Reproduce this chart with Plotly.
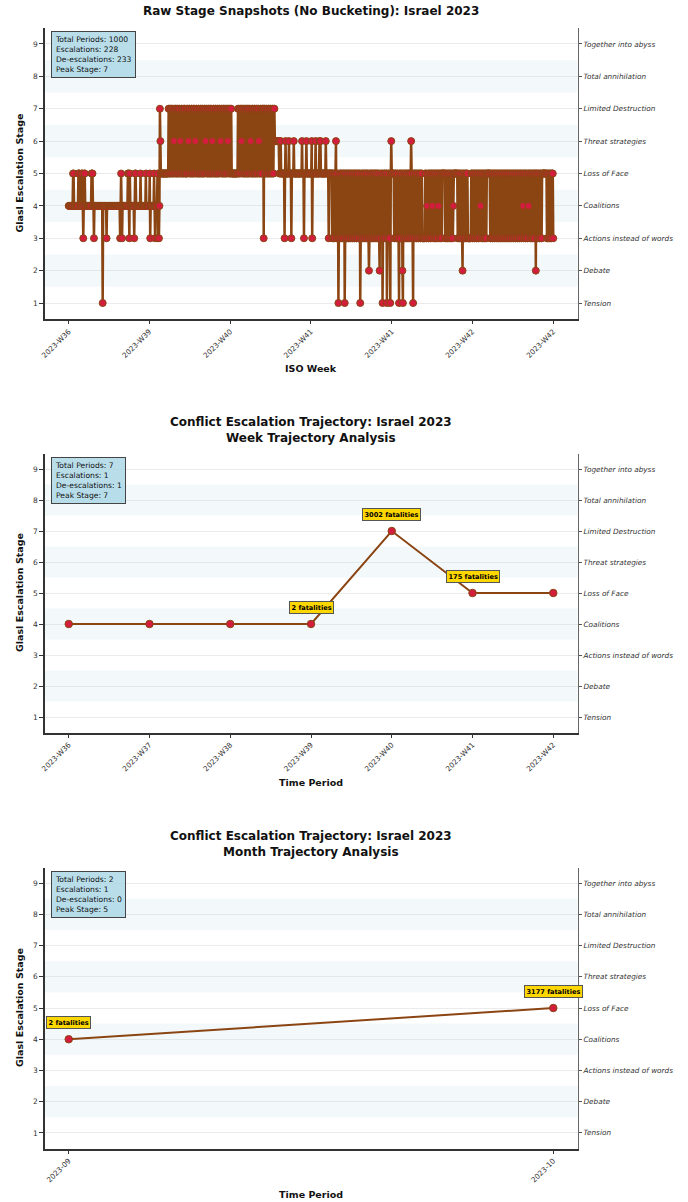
import plotly.graph_objects as go

# ---------------- data ----------------
STAGE_LEVELS = [1, 2, 3, 4, 5, 6, 7, 8, 9]
STAGE_NAMES = ["Tension", "Debate", "Actions instead of words", "Coalitions",
               "Loss of Face", "Threat strategies", "Limited Destruction",
               "Total annihilation", "Together into abyss"]

# raw snapshot stages (1000 periods), 50 per row
RAW_STAGE_ROWS = [
    "4444444445 5444444444 5554444554 3455444444 4444444555",
    "4434444444 4444444444 1444444434 4444444444 4444444444",
    "4444443454 3444444444 4455435444 4444434554 4444444454",
    "4444444445 4444444534 4444445434 4445343476 5555555555",
    "5555557755 7577557657 7557755775 6577557577 5575577657",
    "7557755775 7657755775 5775577557 7567755775 5775576577",
    "5577557755 7756775577 5577557765 7755775555 5555555557",
    "7557756775 5775577557 7557765577 5577557755 7765577557",
    "7737755775 5775577557 7557766666 6666565655 5555535655",
    "5555655553 5555655555 5555555555 5655535555 6555555555",
    "5635555556 5555555656 5555555555 6555553555 5553553535",
    "5635351335 5335533551 3553355335 5335533553 3553355335",
    "5133553355 3355335532 3553355335 5335533553 3253355133",
    "5533551335 5331565555 5335533553 3155335521 5335533553",
    "3553356533 1553355335 5335533553 3333355334 5335533553",
    "4553355335 5345533553 5555553355 3355335533 5534555555",
    "5533553355 3325533553 3553333333 5533553355 3355335534",
    "5533553355 3355555553 3553355335 5335533553 3553355335",
    "5335533553 3553355335 5335533553 3553355435 5335533545",
    "5335533553 3552553355 3355335555 5555553355 3355335553",
]
RAW_TICK_POSITIONS = [0, 166, 333, 499, 666, 832, 999]
RAW_TICK_LABELS = ["2023-W36", "2023-W39", "2023-W40", "2023-W41",
                   "2023-W41", "2023-W42", "2023-W42"]
RAW_STATS = ["Total Periods: 1000", "Escalations: 228",
             "De-escalations: 233", "Peak Stage: 7"]

WEEK_LABELS = ["2023-W36", "2023-W37", "2023-W38", "2023-W39",
               "2023-W40", "2023-W41", "2023-W42"]
WEEK_STAGES = [4, 4, 4, 4, 7, 5, 5]
WEEK_FATALITIES = [0, 0, 0, 2, 3002, 175, 0]
WEEK_STATS = ["Total Periods: 7", "Escalations: 1",
              "De-escalations: 1", "Peak Stage: 7"]

MONTH_LABELS = ["2023-09", "2023-10"]
MONTH_STAGES = [4, 5]
MONTH_FATALITIES = [2, 3177]
MONTH_STATS = ["Total Periods: 2", "Escalations: 1",
               "De-escalations: 0", "Peak Stage: 5"]

raw_stages = [int(c) for row in RAW_STAGE_ROWS for c in row.replace(" ", "")]
raw_index = list(range(len(raw_stages)))

# ---------------- style / layout ----------------
W, H = 688, 1202
FONT = "DejaVu Sans"
LINE_COLOR = "#8B4513"
MARKER_COLOR = "#D21E3C"
BAND_COLOR = "rgba(173,216,230,0.14)"
GRID_COLOR = "rgba(190,190,190,0.30)"

X_DOMAIN = [44.5 / W, 577.5 / W]


def py(px):
    return 1 - px / H


PANELS = [
    # (axis suffix, right-axis suffix, top px, bottom px)
    ("", "4", 27.8, 319.2),
    ("2", "5", 453.5, 732.5),
    ("3", "6", 867.5, 1148.5),
]

fig = go.Figure()

# panel 1 : raw snapshots
fig.add_trace(go.Scatter(
    x=raw_index, y=raw_stages, mode="lines+markers",
    line=dict(color=LINE_COLOR, width=2.5, simplify=False),
    marker=dict(color=MARKER_COLOR, size=7, line=dict(color=LINE_COLOR, width=1)),
    xaxis="x", yaxis="y", showlegend=False, hoverinfo="skip"))

# panel 2 : weekly
fig.add_trace(go.Scatter(
    x=WEEK_LABELS, y=WEEK_STAGES, mode="lines+markers",
    line=dict(color=LINE_COLOR, width=2),
    marker=dict(color=MARKER_COLOR, size=7.5, line=dict(color=LINE_COLOR, width=1)),
    xaxis="x2", yaxis="y2", showlegend=False, hoverinfo="skip"))

# panel 3 : monthly
fig.add_trace(go.Scatter(
    x=MONTH_LABELS, y=MONTH_STAGES, mode="lines+markers",
    line=dict(color=LINE_COLOR, width=2),
    marker=dict(color=MARKER_COLOR, size=7.5, line=dict(color=LINE_COLOR, width=1)),
    xaxis="x3", yaxis="y3", showlegend=False, hoverinfo="skip"))

# invisible anchors for the right-hand stage-name axes
for xs, ry, xv in [("x", "y4", raw_index[0]), ("x2", "y5", WEEK_LABELS[0]),
                   ("x3", "y6", MONTH_LABELS[0])]:
    fig.add_trace(go.Scatter(x=[xv], y=[STAGE_LEVELS[0]], mode="markers",
                             marker=dict(opacity=0), xaxis=xs, yaxis=ry,
                             showlegend=False, hoverinfo="skip"))

layout = dict(
    width=W, height=H, margin=dict(l=0, r=0, t=0, b=0, autoexpand=False),
    paper_bgcolor="white", plot_bgcolor="white",
    font=dict(family=FONT, color="#222"),
)

x_ranges = [
    dict(range=[-49.95, 1048.95], tickvals=RAW_TICK_POSITIONS, ticktext=RAW_TICK_LABELS),
    dict(type="category", range=[-0.3, len(WEEK_LABELS) - 1 + 0.3]),
    dict(type="category", range=[-0.05, len(MONTH_LABELS) - 1 + 0.05]),
]

shapes = []
for (sfx, rsfx, top, bot), xr in zip(PANELS, x_ranges):
    xname = "xaxis" + sfx
    yname = "yaxis" + sfx
    rname = "yaxis" + rsfx
    xid = "x" + sfx
    yid = "y" + sfx
    dom = [py(bot), py(top)]
    layout[xname] = dict(
        domain=X_DOMAIN, anchor=yid, tickangle=-45, ticks="outside", ticklen=3.5,
        tickcolor="#333", tickfont=dict(size=7.3, color="#333"), automargin=False,
        showline=True, linecolor="#333", linewidth=1.5, showgrid=False,
        zeroline=False, **xr)
    layout[yname] = dict(
        domain=dom, anchor=xid, range=[0.5, 9.5], tickvals=STAGE_LEVELS,
        ticks="outside", ticklen=3.5, tickcolor="#333", automargin=False,
        tickfont=dict(size=7.5, color="#333"),
        showgrid=True, gridcolor=GRID_COLOR, gridwidth=1,
        showline=True, linecolor="#333", linewidth=1.5, zeroline=False)
    layout[rname] = dict(
        overlaying=yid, side="right", anchor=xid, range=[0.5, 9.5],
        tickvals=STAGE_LEVELS, ticktext=STAGE_NAMES, automargin=False,
        ticks="outside", ticklen=3.5, tickcolor="#555",
        tickfont=dict(size=7.3, color="#333", style="italic"),
        showgrid=False, showline=True, linecolor="#666", linewidth=1, zeroline=False)
    for lv in STAGE_LEVELS:
        if lv % 2 == 0:
            shapes.append(dict(type="rect", xref=xid + " domain", yref=yid,
                               x0=0, x1=1, y0=lv - 0.5, y1=lv + 0.5,
                               fillcolor=BAND_COLOR, line=dict(width=0), layer="below"))

layout["shapes"] = shapes

ann = []
# titles
ann.append(dict(text="<b>Raw Stage Snapshots (No Bucketing): Israel 2023</b>",
                xref="paper", yref="paper", x=311 / W, y=py(11), showarrow=False,
                xanchor="center", yanchor="middle", font=dict(size=12, color="#111")))
ann.append(dict(text="<b>Conflict Escalation Trajectory: Israel 2023<br>Week Trajectory Analysis</b>",
                xref="paper", yref="paper", x=311 / W, y=py(429.5), showarrow=False,
                xanchor="center", yanchor="middle", font=dict(size=12, color="#111")))
ann.append(dict(text="<b>Conflict Escalation Trajectory: Israel 2023<br>Month Trajectory Analysis</b>",
                xref="paper", yref="paper", x=311 / W, y=py(843.5), showarrow=False,
                xanchor="center", yanchor="middle", font=dict(size=12, color="#111")))

# axis titles
for (sfx, rsfx, top, bot), xt, xty in zip(PANELS, ["ISO Week", "Time Period", "Time Period"],
                                          [369, 782, 1194]):
    ann.append(dict(text="<b>Glasl Escalation Stage</b>", xref="paper", yref="paper",
                    x=19 / W, y=py((top + bot) / 2), textangle=-90, showarrow=False,
                    xanchor="center", yanchor="middle", font=dict(size=9.5, color="#111")))
    ann.append(dict(text="<b>" + xt + "</b>", xref="paper", yref="paper",
                    x=311 / W, y=py(xty), showarrow=False,
                    xanchor="center", yanchor="middle", font=dict(size=9.5, color="#111")))

# stats boxes
for (sfx, rsfx, top, bot), stats in zip(PANELS, [RAW_STATS, WEEK_STATS, MONTH_STATS]):
    ann.append(dict(text="<br>".join(stats), xref="paper", yref="paper",
                    x=51 / W, y=py(top + 3), xanchor="left", yanchor="top",
                    align="left", showarrow=False,
                    font=dict(size=7.6, color="#111"),
                    bgcolor="rgba(173,216,230,0.85)", bordercolor="#444",
                    borderwidth=1, borderpad=3))

# fatality labels
for labels, stages, fats, sfx in [(WEEK_LABELS, WEEK_STAGES, WEEK_FATALITIES, "2"),
                                  (MONTH_LABELS, MONTH_STAGES, MONTH_FATALITIES, "3")]:
    for lab, st, f in zip(labels, stages, fats):
        if f > 0:
            ann.append(dict(text="<b>%d fatalities</b>" % f, xref="x" + sfx, yref="y" + sfx,
                            x=lab, y=st, yshift=17, showarrow=False,
                            xanchor="center", yanchor="middle",
                            font=dict(size=6.6, color="#000"),
                            bgcolor="#FFD700", bordercolor="#555",
                            borderwidth=1, borderpad=1.5))

layout["annotations"] = ann
fig.update_layout(**layout)

fig.write_html("out.html")
